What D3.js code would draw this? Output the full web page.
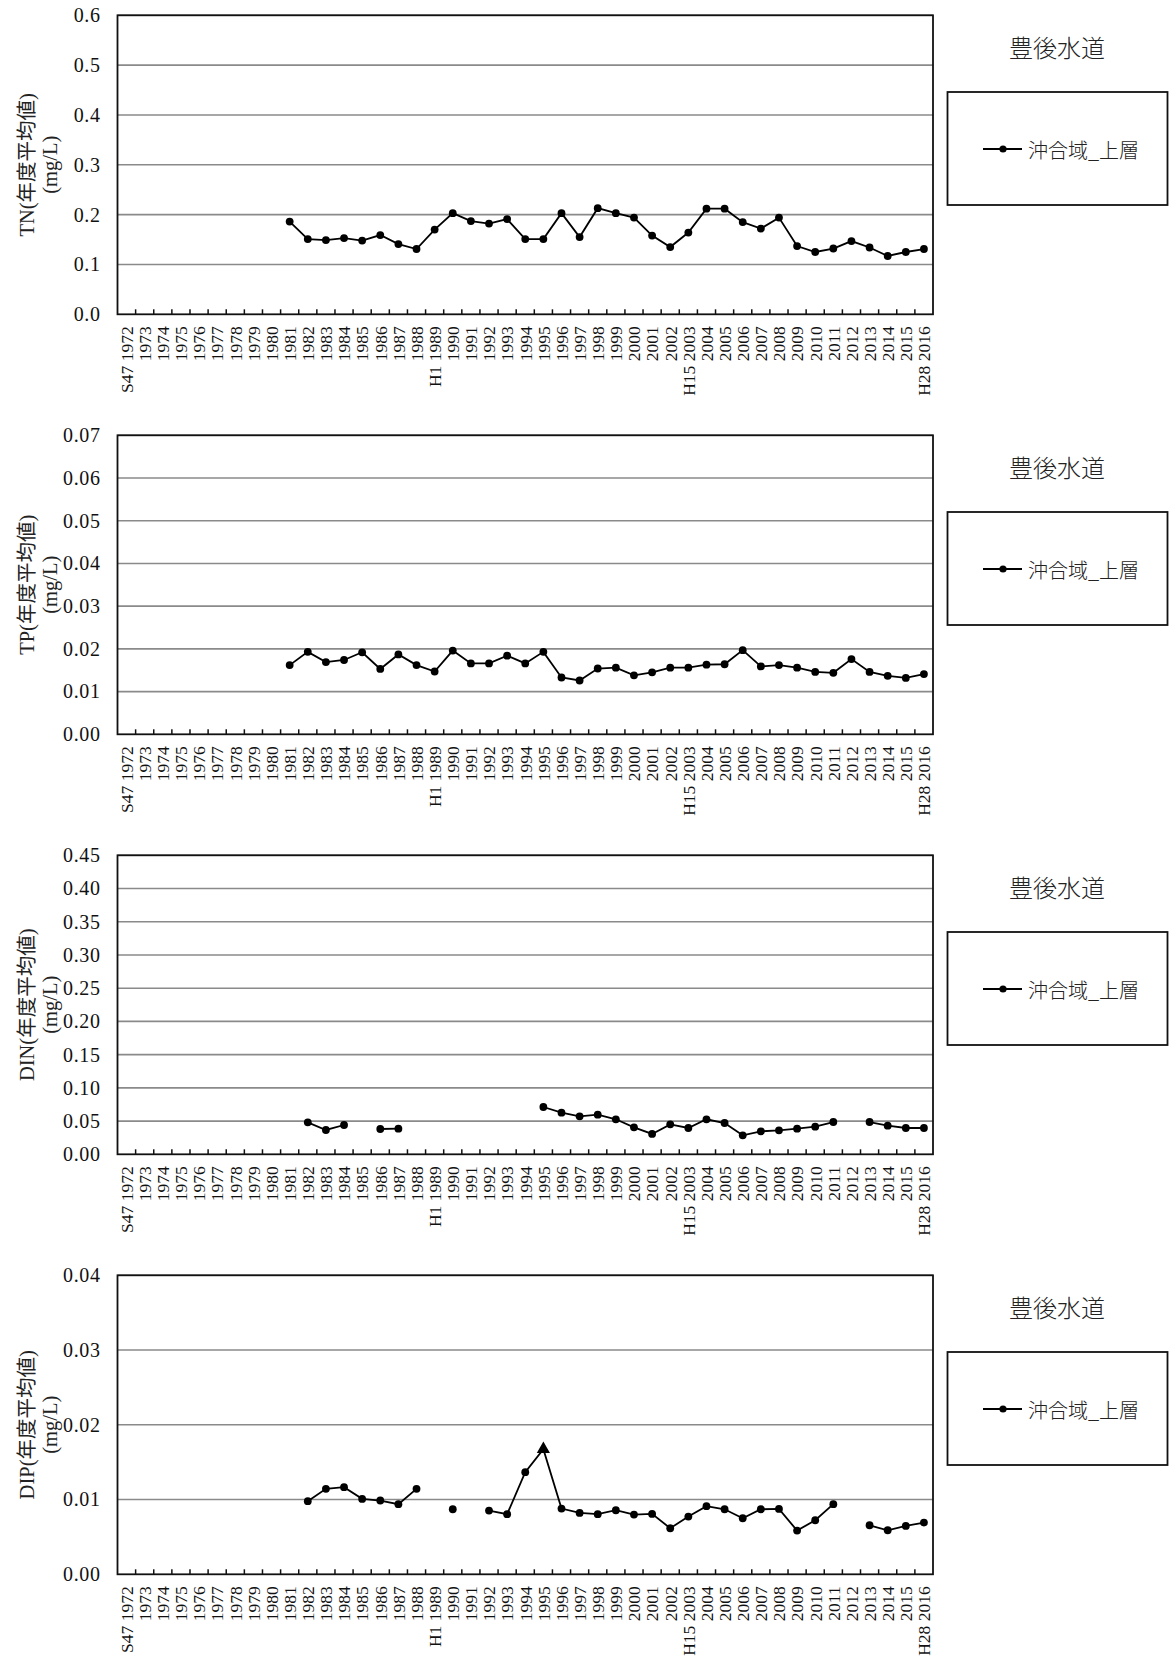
<!DOCTYPE html>
<html>
<head>
<meta charset="utf-8">
<script src="https://cdn.jsdelivr.net/npm/d3@7"></script>
<style>
  body { margin: 0; background: #fff; }
  .serif { font-family: "Liberation Serif", "Noto Sans CJK JP", serif; }
  .gothic { font-family: "Noto Sans CJK JP", sans-serif; }
</style>
</head>
<body>
<div id="chart"></div>
<script>
// years on the category axis (1972 - 2016)
var years = ["1972","1973","1974","1975","1976","1977","1978","1979","1980","1981",
  "1982","1983","1984","1985","1986","1987","1988","1989","1990","1991",
  "1992","1993","1994","1995","1996","1997","1998","1999","2000","2001",
  "2002","2003","2004","2005","2006","2007","2008","2009","2010","2011",
  "2012","2013","2014","2015","2016"];

// era label put in front of some years
var eraLabels = {"1972": "S47", "1989": "H1", "2003": "H15", "2016": "H28"};

var areaTitle = "豊後水道";
var seriesName = "沖合域_上層";

// values (null = no data), one per year
var tnValues = [null,null,null,null,null,null,null,null,null,0.186,
  0.151,0.149,0.153,0.148,0.159,0.141,0.131,0.170,0.203,0.187,
  0.182,0.191,0.151,0.151,0.203,0.155,0.213,0.203,0.194,0.158,
  0.135,0.164,0.212,0.212,0.185,0.172,0.194,0.137,0.125,0.132,
  0.147,0.134,0.117,0.125,0.131];

var tpValues = [null,null,null,null,null,null,null,null,null,0.0162,
  0.0193,0.0169,0.0174,0.0192,0.0153,0.0187,0.0162,0.0147,0.0196,0.0166,
  0.0166,0.0184,0.0166,0.0193,0.0133,0.0126,0.0154,0.0156,0.0138,0.0145,
  0.0156,0.0156,0.0163,0.0164,0.0197,0.0159,0.0162,0.0156,0.0146,0.0144,
  0.0176,0.0146,0.0137,0.0132,0.0141];

var dinValues = [null,null,null,null,null,null,null,null,null,null,
  0.0481,0.0366,0.0441,null,0.0381,0.0386,null,null,null,null,
  null,null,null,0.0712,0.0627,0.0572,0.0597,0.0527,0.0406,0.0306,
  0.0451,0.0396,0.0527,0.0471,0.0286,0.0346,0.0361,0.0386,0.0416,0.0486,
  null,0.0486,0.0431,0.0396,0.0396];

var dipValues = [null,null,null,null,null,null,null,null,null,null,
  0.00978,0.01143,0.01165,0.01009,0.00987,0.00938,0.01143,null,0.0087,null,
  0.00853,0.00804,0.01366,0.01674,0.00879,0.00821,0.00804,0.00857,0.00799,0.00808,
  0.00616,0.00772,0.00911,0.0087,0.0075,0.0087,0.00875,0.00585,0.00723,0.00938,
  null,0.00656,0.00589,0.00647,0.00692];

// years drawn with a triangle marker
var dipTriangleYears = ["1995"];

var tnTicks = [0, 0.1, 0.2, 0.3, 0.4, 0.5, 0.6];
var tpTicks = [0, 0.01, 0.02, 0.03, 0.04, 0.05, 0.06, 0.07];
var dinTicks = [0, 0.05, 0.10, 0.15, 0.20, 0.25, 0.30, 0.35, 0.40, 0.45];
var dipTicks = [0, 0.01, 0.02, 0.03, 0.04];

var panels = [
  {name: "TN", values: tnValues, ticks: tnTicks, fmt: ".1f", tri: []},
  {name: "TP", values: tpValues, ticks: tpTicks, fmt: ".2f", tri: []},
  {name: "DIN", values: dinValues, ticks: dinTicks, fmt: ".2f", tri: []},
  {name: "DIP", values: dipValues, ticks: dipTicks, fmt: ".2f", tri: dipTriangleYears}
];

var W = 1169, H = 1662;
var panelH = 420;
var plot = {left: 117.5, right: 933, top: 15.3, bottom: 314.3};

var svg = d3.select("#chart")
  .append("svg")
    .attr("width", W)
    .attr("height", H)
    .style("background", "#fff");

var x = d3.scaleBand()
  .domain(years)
  .range([plot.left, plot.right]);

panels.forEach(function(p, k) {
  var g = svg.append("g")
    .attr("transform", "translate(0," + (k * panelH) + ")");

  var y = d3.scaleLinear()
    .domain([0, d3.max(p.ticks)])
    .range([plot.bottom, plot.top]);

  // gridlines
  g.append("g")
    .selectAll("line")
    .data(p.ticks.slice(1))
    .enter()
    .append("line")
      .attr("x1", plot.left)
      .attr("x2", plot.right)
      .attr("y1", function(d) { return y(d); })
      .attr("y2", function(d) { return y(d); })
      .attr("stroke", "#8a8a8a")
      .attr("stroke-width", 1.6);

  // plot border
  g.append("rect")
    .attr("x", plot.left)
    .attr("y", plot.top)
    .attr("width", plot.right - plot.left)
    .attr("height", plot.bottom - plot.top)
    .attr("fill", "none")
    .attr("stroke", "#111")
    .attr("stroke-width", 1.8);

  // y axis labels
  var yAxis = g.append("g")
    .attr("transform", "translate(" + plot.left + ",0)")
    .call(d3.axisLeft(y).tickValues(p.ticks).tickSize(0).tickPadding(17)
      .tickFormat(d3.format(p.fmt)));
  yAxis.select(".domain").remove();
  yAxis.attr("font-family", null).attr("font-size", null);
  yAxis.selectAll("text")
    .attr("class", "serif")
    .style("font-size", "20px")
    .style("letter-spacing", "0.6px")
    .attr("fill", "#111");

  // category ticks (inside, at band edges)
  g.append("g")
    .selectAll("line")
    .data(years.slice(1))
    .enter()
    .append("line")
      .attr("x1", function(d) { return x(d); })
      .attr("x2", function(d) { return x(d); })
      .attr("y1", plot.bottom)
      .attr("y2", plot.bottom - 5)
      .attr("stroke", "#111")
      .attr("stroke-width", 1.5);

  // category labels, rotated
  g.append("g")
    .selectAll("text")
    .data(years)
    .enter()
    .append("text")
      .attr("class", "serif")
      .attr("transform", function(d) {
        return "translate(" + (x(d) + x.bandwidth() / 2) + "," + (plot.bottom + 12) + ") rotate(-90)";
      })
      .attr("dy", "0.36em")
      .attr("text-anchor", "end")
      .style("font-size", "17.5px")
      .attr("fill", "#111")
      .text(function(d) { return eraLabels[d] ? eraLabels[d] + " " + d : d; });

  // y axis title
  var cy = (plot.top + plot.bottom) / 2;
  [[27, p.name + "(年度平均値)"], [50, "(mg/L)"]].forEach(function(t) {
    g.append("text")
      .attr("class", "serif")
      .attr("transform", "translate(" + t[0] + "," + cy + ") rotate(-90)")
      .attr("dy", "0.35em")
      .attr("text-anchor", "middle")
      .style("font-size", "20.5px")
      .attr("fill", "#222")
      .text(t[1]);
  });

  // data
  var data = years.map(function(yr, i) { return {year: yr, v: p.values[i]}; });

  g.append("path")
    .datum(data)
    .attr("d", d3.line()
      .defined(function(d) { return d.v != null; })
      .x(function(d) { return x(d.year) + x.bandwidth() / 2; })
      .y(function(d) { return y(d.v); })
    )
    .attr("fill", "none")
    .attr("stroke", "#000")
    .attr("stroke-width", 1.8);

  var pts = data.filter(function(d) { return d.v != null; });

  g.append("g")
    .selectAll("circle")
    .data(pts.filter(function(d) { return p.tri.indexOf(d.year) < 0; }))
    .enter()
    .append("circle")
      .attr("cx", function(d) { return x(d.year) + x.bandwidth() / 2; })
      .attr("cy", function(d) { return y(d.v); })
      .attr("r", 3.9)
      .attr("fill", "#000");

  g.append("g")
    .selectAll("path")
    .data(pts.filter(function(d) { return p.tri.indexOf(d.year) >= 0; }))
    .enter()
    .append("path")
      .attr("d", d3.symbol(d3.symbolTriangle, 75))
      .attr("transform", function(d) {
        return "translate(" + (x(d.year) + x.bandwidth() / 2) + "," + y(d.v) + ")";
      })
      .attr("fill", "#000");

  // area title
  g.append("text")
    .attr("class", "gothic")
    .attr("x", 1057)
    .attr("y", 46)
    .attr("text-anchor", "middle")
    .attr("dominant-baseline", "central")
    .style("font-size", "24px")
    .style("font-weight", 300)
    .attr("fill", "#222")
    .text(areaTitle);

  // legend
  var lg = g.append("g");
  lg.append("rect")
    .attr("x", 947.5)
    .attr("y", 92)
    .attr("width", 220)
    .attr("height", 113)
    .attr("fill", "#fff")
    .attr("stroke", "#111")
    .attr("stroke-width", 1.8);
  lg.append("line")
    .attr("x1", 983)
    .attr("x2", 1022)
    .attr("y1", 149)
    .attr("y2", 149)
    .attr("stroke", "#000")
    .attr("stroke-width", 1.8);
  lg.append("circle")
    .attr("cx", 1003)
    .attr("cy", 149)
    .attr("r", 3.6)
    .attr("fill", "#000");
  lg.append("text")
    .attr("class", "gothic")
    .attr("x", 1028)
    .attr("y", 149)
    .attr("dominant-baseline", "central")
    .style("font-size", "20px")
    .style("font-weight", 300)
    .attr("fill", "#222")
    .text(seriesName);
});
</script>
</body>
</html>
